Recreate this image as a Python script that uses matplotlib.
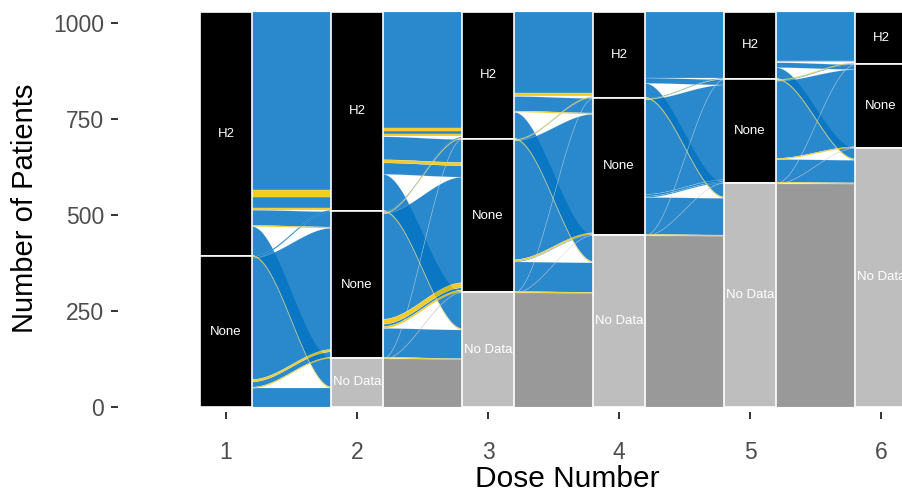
import numpy as np
import matplotlib.pyplot as plt
from matplotlib.colors import to_rgba
from matplotlib.patches import Rectangle

plt.rcParams['font.family'] = ['Liberation Sans', 'DejaVu Sans']

doses = [1, 2, 3, 4, 5, 6]
levels = ['H2', 'None', 'No Data']  # stacked top to bottom

# flows between consecutive doses: (from, to, fill group, patients)
flows_1_2 = [
    ('H2', 'H2', 'a', 466), ('H2', 'H2', 'b', 18), ('H2', 'H2', 'a', 29), ('H2', 'H2', 'b', 3),
    ('H2', 'None', 'a', 40), ('H2', 'None', 'b', 3),
    ('H2', 'No Data', 'a', 75), ('H2', 'No Data', 'b', 3),
    ('None', 'H2', 'a', 4),
    ('None', 'None', 'a', 316), ('None', 'None', 'b', 6), ('None', 'None', 'a', 14), ('None', 'None', 'b', 3),
    ('None', 'No Data', 'a', 50),
]
flows_2_3 = [
    ('H2', 'H2', 'a', 304), ('H2', 'H2', 'b', 8), ('H2', 'H2', 'a', 8), ('H2', 'H2', 'b', 5),
    ('H2', 'None', 'a', 60), ('H2', 'None', 'b', 8), ('H2', 'None', 'a', 30),
    ('H2', 'No Data', 'a', 94), ('H2', 'No Data', 'b', 3),
    ('None', 'H2', 'a', 3), ('None', 'H2', 'b', 2),
    ('None', 'None', 'a', 275), ('None', 'None', 'b', 13), ('None', 'None', 'a', 6), ('None', 'None', 'b', 5),
    ('None', 'No Data', 'a', 75), ('None', 'No Data', 'b', 3),
    ('No Data', 'H2', 'n', 2), ('No Data', 'None', 'n', 2), ('No Data', 'No Data', 'n', 124),
]
flows_3_4 = [
    ('H2', 'H2', 'a', 212), ('H2', 'H2', 'b', 8),
    ('H2', 'None', 'a', 38), ('H2', 'None', 'b', 3),
    ('H2', 'No Data', 'a', 68), ('H2', 'No Data', 'b', 3),
    ('None', 'H2', 'b', 2), ('None', 'H2', 'a', 2),
    ('None', 'None', 'a', 309), ('None', 'None', 'b', 4), ('None', 'None', 'a', 2),
    ('None', 'No Data', 'a', 77), ('None', 'No Data', 'b', 3),
    ('No Data', 'H2', 'n', 1), ('No Data', 'None', 'n', 1), ('No Data', 'No Data', 'n', 297),
]
flows_4_5 = [
    ('H2', 'H2', 'a', 172),
    ('H2', 'None', 'a', 14),
    ('H2', 'No Data', 'a', 36), ('H2', 'No Data', 'b', 3),
    ('None', 'H2', 'a', 2), ('None', 'H2', 'b', 1),
    ('None', 'None', 'a', 247), ('None', 'None', 'a', 5), ('None', 'None', 'a', 3),
    ('None', 'No Data', 'a', 96), ('None', 'No Data', 'b', 3),
    ('No Data', 'H2', 'n', 1), ('No Data', 'None', 'n', 1), ('No Data', 'No Data', 'n', 446),
]
flows_5_6 = [
    ('H2', 'H2', 'a', 130), ('H2', 'H2', 'b', 2),
    ('H2', 'None', 'a', 13),
    ('H2', 'No Data', 'a', 28), ('H2', 'No Data', 'b', 3),
    ('None', 'H2', 'b', 2), ('None', 'H2', 'a', 2),
    ('None', 'None', 'a', 201), ('None', 'None', 'b', 3),
    ('None', 'No Data', 'a', 59), ('None', 'No Data', 'b', 3),
    ('No Data', 'H2', 'n', 1), ('No Data', 'None', 'n', 1), ('No Data', 'No Data', 'n', 582),
]
transitions = [flows_1_2, flows_2_3, flows_3_4, flows_4_5, flows_5_6]

fill_colors = {'a': '#0574C3', 'b': '#F2C300', 'n': '#878787'}
draw_order = {'a': 0, 'n': 1, 'b': 2}
stratum_colors = {'H2': 'black', 'None': 'black', 'No Data': '#BEBEBE'}
rank = {lv: i for i, lv in enumerate(levels)}
w = 0.39


def stack_tops(totals):
    tops = {}
    y = sum(totals.values())
    for lv in levels:
        tops[lv] = y
        y -= totals[lv]
    return tops


def layout(flows):
    out_tot = {lv: 0 for lv in levels}
    in_tot = {lv: 0 for lv in levels}
    for s, d, g, n in flows:
        out_tot[s] += n
        in_tot[d] += n
    idx = range(len(flows))
    left, right = {}, {}
    cur = stack_tops(out_tot)
    for i in sorted(idx, key=lambda i: (rank[flows[i][0]], rank[flows[i][1]], i)):
        s = flows[i][0]
        left[i] = (cur[s], cur[s] - flows[i][3])
        cur[s] -= flows[i][3]
    cur = stack_tops(in_tot)
    for i in sorted(idx, key=lambda i: (rank[flows[i][1]], rank[flows[i][0]], i)):
        d = flows[i][1]
        right[i] = (cur[d], cur[d] - flows[i][3])
        cur[d] -= flows[i][3]
    return out_tot, in_tot, left, right


fig = plt.figure(figsize=(9.03, 4.93), dpi=100)
ax = fig.add_axes([118 / 903, 81 / 493, 785 / 903, 412 / 493])

strata_totals = []
for k, flows in enumerate(transitions):
    out_tot, in_tot, left, right = layout(flows)
    if k == 0:
        strata_totals.append(out_tot)
    strata_totals.append(in_tot)
    x0 = doses[k] + w / 2
    x1 = doses[k + 1] - w / 2
    xs = np.linspace(x0, x1, 80)
    t = (xs - x0) / (x1 - x0)
    s_curve = t * t * (3 - 2 * t)
    for i in sorted(range(len(flows)), key=lambda i: draw_order[flows[i][2]]):
        g = flows[i][2]
        (lt, lb), (rt, rb) = left[i], right[i]
        upper = lt + (rt - lt) * s_curve
        lower = lb + (rb - lb) * s_curve
        ax.fill_between(xs, lower, upper, facecolor=to_rgba(fill_colors[g], 0.85),
                        edgecolor=(1, 1, 1, 0.45), linewidth=0.25, zorder=2)

# strata boxes with labels
for x, totals in zip(doses, strata_totals):
    tops = stack_tops(totals)
    for lv in levels:
        n = totals[lv]
        if n == 0:
            continue
        bottom = tops[lv] - n
        ax.add_patch(Rectangle((x - w / 2, bottom), w, n, facecolor=stratum_colors[lv],
                               edgecolor='white', linewidth=1.2, zorder=3))
        ax.text(x, bottom + n / 2, lv, color='white', ha='center', va='center',
                fontsize=9.5, zorder=4)

ax.set_xlim(1 + (118 - 226) / 131, 1 + (903 - 226) / 131)
ax.set_ylim(-13, 1060)
ax.set_xticks(doses)
ax.set_xticklabels([str(d) for d in doses])
ax.set_yticks([0, 250, 500, 750, 1000])
for sp in ax.spines.values():
    sp.set_visible(False)
ax.tick_params(axis='both', direction='out', length=5, width=1.4, color='#333333',
               labelsize=16.5, labelcolor='#4D4D4D')
ax.tick_params(axis='x', pad=16)
ax.tick_params(axis='y', pad=5)

fig.text(567 / 903, 1 - 479 / 493, 'Dose Number', ha='center', va='center', fontsize=21.5)
fig.text(25 / 903, 1 - 208 / 493, 'Number of Patients', ha='center', va='center',
         fontsize=21, rotation=90)

fig.savefig('out.png', dpi=100)
